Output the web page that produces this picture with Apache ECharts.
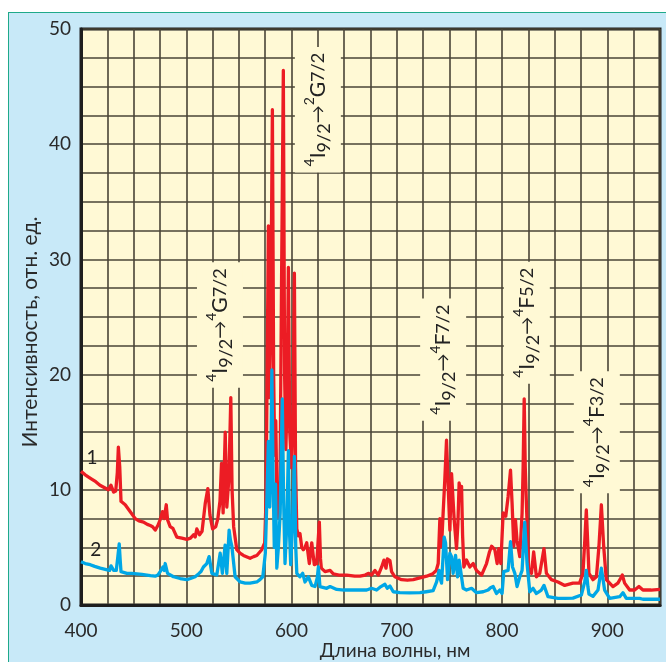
<!DOCTYPE html>
<html>
<head>
<meta charset="utf-8">
<script src="https://cdn.jsdelivr.net/npm/echarts@6/dist/echarts.min.js"></script>
<style>
html,body{margin:0;padding:0;overflow:hidden;background:#fff;}
#frame{position:absolute;left:8px;top:12px;width:658px;height:650px;background:#c8e9f8;border-left:1.5px solid #1fa98a;border-top:1.5px solid #1fa98a;}
#spec{position:absolute;left:0;top:0;width:666px;height:662px;}
</style>
</head>
<body>
<div id="frame"></div>
<div id="spec"></div>
<script>
// спектр 1 (красный) - [нм, интенсивность]
var spectrum1 = [
  [400,11.6],[404,11.3],[409,11.0],[414,10.7],[418,10.4],[422,10.2],[426,10.0],[428.4,10.4],[431,9.8],[433,9.9],
  [434.5,11.5],[435.5,13.7],[436.8,12.0],[438,9.0],[442,8.7],[446.8,8.1],[451.5,7.5],[455,7.3],[459.4,7.2],[463,7.0],
  [465.8,6.9],[468,6.8],[470.5,6.5],[473,6.9],[475.2,7.4],[477.4,8.1],[479,7.5],[481,8.7],[482.2,7.4],[484.7,6.8],
  [487.3,6.65],[489,6.3],[491,5.9],[495.8,5.8],[500.5,5.7],[504,5.8],[506.9,6.1],[508.5,5.9],[510,6.6],[512.6,6.1],
  [515,6.4],[518,8.8],[520.5,10.1],[522.5,7.8],[525,6.6],[528,6.8],[530,7.5],[532,9],[533.5,12.3],[535,8.0],
  [537,15.0],[538.5,8.5],[540.5,11],[542.3,18.0],[543.5,10],[545,6.8],[548,4.8],[551,4.5],[554.3,4.3],[560.6,4.05],
  [564,4.2],[567,4.3],[571.7,4.8],[574.5,5.4],[575.7,9],[576.8,20],[578,32.9],[579,18],[580.2,24],[581.8,43.0],
  [583,20],[584,13],[585,16],[586,10],[587.5,7.6],[589,10],[590.5,28],[592.2,46.4],[593.4,20],[594.6,13.5],
  [595.8,18],[597,29.3],[598.3,15],[600,11.9],[601.5,17],[602.7,28.8],[603.8,12],[605,6.6],[606.5,6.0],[608,6.2],
  [609.7,5.0],[611.2,4.8],[612.8,5.0],[614.4,5.4],[616.9,3.6],[619.2,5.4],[621.6,3.5],[623.9,3.6],[625.2,5.5],[626.4,7.2],
  [627.5,4.0],[628.3,3.2],[631.8,2.9],[636.6,3.0],[639.7,2.7],[645,2.6],[652.4,2.6],[660,2.5],[665,2.5],[670,2.6],
  [672.9,2.75],[676,2.6],[679.2,3.0],[682.4,2.6],[685.6,3.3],[687.8,3.9],[689.7,3.2],[691,4.0],[693.5,3.85],[695,2.9],
  [698.2,2.45],[704.5,2.2],[710,2.15],[715.6,2.2],[722,2.35],[728.3,2.5],[734,2.7],[737.5,3.0],[739.3,3.6],[740.9,7.5],
  [742.5,5.1],[744,8],[745.6,10.9],[747.2,14.3],[748.8,10.3],[750.4,6.5],[752,11.4],[754.5,7.4],[756.7,4.9],[758,7],
  [759.2,10.6],[760.5,9.5],[761.5,10.3],[762.5,6],[763.7,3.3],[766.2,3.9],[769.4,3.3],[772.5,3.6],[775.7,3.0],[780.5,2.6],
  [785.2,3.6],[788,4.6],[790,5.1],[793.1,4.8],[795.3,3.6],[796.9,4.9],[798.8,3.6],[801,8.0],[803.5,7.7],[805.7,9.4],
  [808,11.7],[809.5,8.8],[811.1,5.1],[812.7,7.4],[814.2,5.6],[816.8,4.2],[819,8.0],[820,12],[821,17.9],[822,12],
  [823.1,8.8],[825.3,3.0],[827.9,2.75],[830,4.6],[832.6,2.45],[835.8,2.75],[839.8,4.9],[842.1,2.75],[846.9,2.2],[853.1,2.0],
  [859.5,1.7],[861,1.6],[867.3,1.9],[873.6,1.9],[876.8,2.75],[878.5,5.5],[880,8.25],[881.3,5.5],[882.5,2.75],[886.3,2.2],
  [889.6,2.45],[892,5.1],[894.3,8.7],[896.5,5.1],[899,2.2],[905.3,1.6],[910,1.9],[912.5,2.3],[914.2,2.6],[916.4,1.9],
  [921.2,1.3],[925.9,1.3],[930,1.6],[933.8,1.3],[941.7,1.3],[950,1.35]
];
// спектр 2 (синий)
var spectrum2 = [
  [400,3.75],[404,3.6],[408.8,3.5],[413,3.35],[418.3,3.2],[423,3.1],[427.1,3.0],[428.5,3.4],[431,3.0],[433.5,3.0],
  [435,4.2],[436.3,5.3],[437.3,3.8],[438,2.9],[443.6,2.75],[448,2.75],[453.1,2.7],[458,2.65],[462.6,2.6],[466,2.55],
  [470.5,2.5],[473,2.6],[475.2,2.9],[477.8,3.3],[479,3.0],[480,3.6],[482.2,2.75],[487.9,2.45],[494.2,2.3],[500.6,2.2],
  [504,2.3],[508.4,2.45],[511.6,2.7],[514,2.9],[516.3,3.3],[519.5,3.6],[521.7,4.2],[524.3,2.75],[529,2.6],[532.2,4.5],
  [534.3,2.75],[536.9,5.2],[538.5,2.75],[540.7,6.5],[542,5.6],[543.3,5.1],[546.4,2.45],[551.1,2.0],[556,1.9],[560.6,1.9],
  [567,2.0],[570,2.2],[572.7,2.45],[575.1,4.5],[576.5,9],[578,14.2],[579.3,8.5],[580.2,12],[581.3,20.4],[582.5,11],
  [583.6,5],[584.8,10.5],[586,3.2],[587.5,5],[589.2,8],[591.2,17.9],[592.5,9],[593.8,3.6],[595.5,7],[597,13.4],
  [598.2,6],[599.2,3.5],[601,7],[602.7,12.9],[604,5],[605,2.75],[608,2.45],[610.6,2.75],[612.8,2.0],[616,2.45],
  [619.2,1.7],[622.3,1.6],[624.5,2.4],[625.5,3.3],[627,1.6],[633.4,1.45],[636.6,1.6],[642.9,1.35],[650,1.3],[658.6,1.3],
  [665,1.3],[671.4,1.3],[676,1.45],[680.8,1.3],[684.9,1.6],[688.7,1.8],[690.9,1.45],[693.5,1.65],[696.6,1.15],[702.9,1.07],
  [712,1.05],[722,1.07],[728,1.15],[734.5,1.24],[737.8,2.0],[740.2,3.0],[741.5,2.2],[742.5,1.9],[745,5.9],[746.3,5.4],
  [748.2,2.2],[750.4,4.5],[752,4.2],[753.5,2.75],[755.8,4.3],[757.7,2.45],[759.2,3.9],[760.8,4.05],[763,1.45],[766.2,1.3],
  [771,1.45],[775.7,1.07],[782,1.15],[786.7,1.3],[789,1.5],[791.5,1.6],[794.7,1.0],[797.8,1.3],[800,1.0],[801.6,2.9],
  [805.7,3.0],[808,5.5],[809.9,3.3],[812.1,2.75],[814.2,1.6],[816.8,2.45],[819,3.0],[821.5,7.2],[823.7,3.6],[826.3,1.15],
  [829.4,1.45],[832.6,1.0],[837.3,1.3],[839.8,1.7],[843.6,0.72],[853.1,0.58],[860,0.58],[867.3,0.6],[875.3,0.87],[878.5,2.0],
  [880,3.0],[881.5,1.6],[882.5,0.95],[886.3,0.75],[891.1,1.3],[894.3,3.2],[897.4,1.3],[902.2,0.58],[911.7,0.72],[914.8,1.07],
  [918,0.58],[930.6,0.58],[933.8,0.5],[950,0.5]
];

// подписи переходов
var transitions = [
  '{s|4}{b|I}{d|9/2}{a|→}{s|4}{b|G}{t|7/2}',
  '{s|4}{b|I}{d|9/2}{a|→}{s|2}{b|G}{t|7/2}',
  '{s|4}{b|I}{d|9/2}{a|→}{s|4}{b|F}{t|7/2}',
  '{s|4}{b|I}{d|9/2}{a|→}{s|4}{b|F}{t|5/2}',
  '{s|4}{b|I}{d|9/2}{a|→}{s|4}{b|F}{t|3/2}'
];
var transitionAt = [[532, 24.3], [625, 43.0], [744, 21.3], [823.5, 24.5], [890, 15.0]];
var curveNames = ['1', '2'];
var curveNameAt = [[410.5, 12.8], [414, 4.8]];

var FONT = 'Lato, "Noto Sans", sans-serif';
var chart = echarts.init(document.getElementById('spec'));

chart.setOption({
  backgroundColor: 'transparent',
  animation: false,
  grid: {
    left: 81, right: 6, top: 29, bottom: 57,
    outerBoundsMode: 'none',
    show: true,
    backgroundColor: '#fff9d5',
    borderColor: '#1e1e1e',
    borderWidth: 3
  },
  xAxis: {
    type: 'value',
    min: 400, max: 950, interval: 25,
    name: 'Длина волны, нм',
    nameLocation: 'middle',
    nameGap: 36,
    nameMoveOverlap: false,
    nameTextStyle: {fontFamily: FONT, fontSize: 19, color: '#2a2a2a', padding: [0, 0, 0, 49]},
    axisLine: {show: true, lineStyle: {color: '#1e1e1e', width: 3}},
    axisTick: {show: false},
    axisLabel: {
      margin: 16, fontFamily: FONT, fontSize: 19, color: '#2a2a2a',
      formatter: function (v) { return v % 100 === 0 ? String(v) : ''; }
    },
    splitLine: {show: true, lineStyle: {color: '#4a4436', width: 1.6}}
  },
  yAxis: {
    type: 'value',
    min: 0, max: 50, interval: 2.5,
    name: 'Интенсивность, отн. ед.',
    nameLocation: 'middle',
    nameGap: 40,
    nameMoveOverlap: false,
    nameTextStyle: {fontFamily: FONT, fontSize: 21, color: '#2a2a2a', padding: [0, 30, 0, 0]},
    axisLine: {show: true, lineStyle: {color: '#1e1e1e', width: 3}},
    axisTick: {show: false},
    axisLabel: {
      margin: 10, fontFamily: FONT, fontSize: 19, color: '#2a2a2a',
      formatter: function (v) { return v % 10 === 0 ? String(v) : ''; }
    },
    splitLine: {show: true, lineStyle: {color: '#4a4436', width: 1.6}}
  },
  series: [
    {
      name: '1', type: 'line', data: spectrum1, showSymbol: false,
      lineStyle: {color: '#ec1c24', width: 3.3, join: 'round'}, z: 3
    },
    {
      name: '2', type: 'line', data: spectrum2, showSymbol: false,
      lineStyle: {color: '#00a7e6', width: 3.3, join: 'round'}, z: 4
    }
  ]
});

var rich = {
  s: {fontFamily: FONT, fontSize: 14, fill: '#222', verticalAlign: 'top', lineHeight: 14},
  b: {fontFamily: FONT, fontSize: 21, fill: '#222', verticalAlign: 'middle', lineHeight: 30},
  d: {fontFamily: FONT, fontSize: 18, fill: '#222', verticalAlign: 'bottom', lineHeight: 20},
  a: {fontFamily: FONT, fontSize: 18, fill: '#222', verticalAlign: 'middle', lineHeight: 30},
  t: {fontFamily: FONT, fontSize: 18, fill: '#222', verticalAlign: 'middle', lineHeight: 30}
};

var graphics = [];
transitions.forEach(function (txt, i) {
  var p = chart.convertToPixel({gridIndex: 0}, transitionAt[i]);
  graphics.push({
    type: 'text', x: p[0], y: p[1], rotation: Math.PI / 2, z: 50,
    style: {
      text: txt, rich: rich, align: 'center', verticalAlign: 'middle',
      backgroundColor: '#fff9d5', padding: [8, 6]
    }
  });
});
curveNames.forEach(function (t, i) {
  var p = chart.convertToPixel({gridIndex: 0}, curveNameAt[i]);
  graphics.push({
    type: 'text', x: p[0], y: p[1], z: 50,
    style: {text: t, font: '19px ' + FONT, fill: '#222', align: 'center', verticalAlign: 'middle'}
  });
});
chart.setOption({graphic: graphics});
</script>
</body>
</html>
